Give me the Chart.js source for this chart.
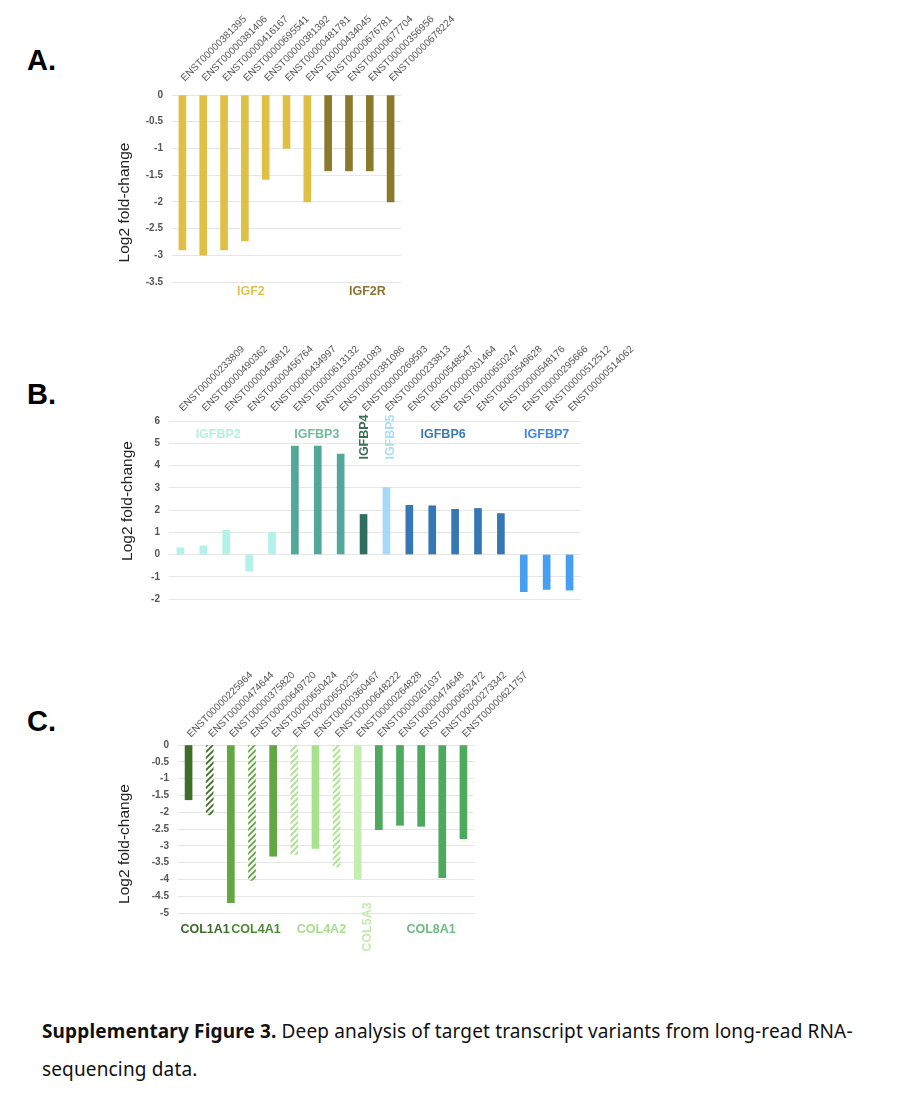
<!DOCTYPE html>
<html>
<head>
<meta charset="utf-8">
<script src="https://cdn.jsdelivr.net/npm/chart.js@4.4.1/dist/chart.umd.min.js"></script>
<style>
  body { margin: 0; background: #fff; }
  #page { position: relative; width: 900px; height: 1108px; overflow: hidden; font-family: "Liberation Sans", Arial, sans-serif; }
  canvas { position: absolute; }
  .panel { position: absolute; font-weight: bold; font-size: 29px; color: #000; }
  .cap { position: absolute; left: 42px; font-family: "Noto Sans", sans-serif; font-size: 19px; letter-spacing: 0.15px; color: #111; white-space: nowrap; }
</style>
</head>
<body>
<div id="page">
  <div class="panel" style="left:27px;top:44px">A.</div>
  <div class="panel" style="left:27px;top:378px">B.</div>
  <div class="panel" style="left:27px;top:705px">C.</div>
  <canvas id="chartA" width="380" height="310" style="left:100px;top:0px"></canvas>
  <canvas id="chartB" width="560" height="290" style="left:100px;top:330px"></canvas>
  <canvas id="chartC" width="460" height="310" style="left:100px;top:660px"></canvas>
  <div class="cap" style="top:1018px"><b>Supplementary Figure 3.</b> Deep analysis of target transcript variants from long-read RNA-</div>
  <div class="cap" style="top:1056px">sequencing data.</div>
</div>
<script>
// ---- data ----
var igfLabels = ['ENST00000381395','ENST00000381406','ENST00000416167','ENST00000695541','ENST00000381392',
  'ENST00000481781','ENST00000434045','ENST00000676781','ENST00000677704','ENST00000356956','ENST00000678224'];
var igfValues = [-2.9, -3.0, -2.9, -2.73, -1.58, -1.0, -2.0, -1.42, -1.42, -1.42, -2.0];
var igfGenes = ['IGF2', 'IGF2R'];
var igfCounts = [7, 4];

var igfbpLabels = ['ENST00000233809','ENST00000490362','ENST00000436812','ENST00000456764','ENST00000434997',
  'ENST00000613132','ENST00000381083','ENST00000381086','ENST00000269593','ENST00000233813','ENST00000548547',
  'ENST00000301464','ENST00000650247','ENST00000549628','ENST00000548176','ENST00000295666','ENST00000512512',
  'ENST00000514062'];
var igfbpValues = [0.3, 0.39, 1.09, -0.75, 0.99, 4.87, 4.87, 4.51, 1.8, 3.01, 2.21, 2.19, 2.03, 2.07, 1.84, -1.67, -1.57, -1.6];
var igfbpGenes = ['IGFBP2', 'IGFBP3', 'IGFBP4', 'IGFBP5', 'IGFBP6', 'IGFBP7'];
var igfbpCounts = [5, 3, 1, 1, 5, 3];

var colLabels = ['ENST00000225964','ENST00000474644','ENST00000375820','ENST00000649720','ENST00000650424',
  'ENST00000650225','ENST00000360467','ENST00000648222','ENST00000264828','ENST00000261037','ENST00000474648',
  'ENST00000652472','ENST00000273342','ENST00000621757'];
var colValues = [-1.63, -2.08, -4.69, -4.03, -3.31, -3.26, -3.08, -3.63, -3.99, -2.52, -2.39, -2.42, -3.95, -2.79];
var colHatched = [false, true, false, true, false, true, false, true, false, false, false, false, false, false];
var colGenes = ['COL1A1', 'COL4A1', 'COL4A2', 'COL5A3', 'COL8A1'];
var colCounts = [2, 3, 3, 1, 5];

var yTitle = 'Log2 fold-change';

// ---- styles ----
var igfBarColors = ['#e0bf45', '#8c7a2c'];
var igfTextColors = ['#e3c14e', '#8f7430'];
var igfbpBarColors = ['#b2f2e8', '#52a898', '#2f6e60', '#a6d8fa', '#3577b5', '#479ff2'];
var igfbpTextColors = ['#b5f0dc', '#6ebc99', '#3d6e55', '#aedcf4', '#3d7aae', '#3d86ea'];
var colBarColors = ['#3e6e2a', '#62a842', '#a9e08c', '#c6ecb2', '#4daa5c'];
var colTextColors = ['#3c6b2b', '#4a8a32', '#a8e08a', '#c4ebaf', '#6dbb80'];
var FONT = '"Liberation Sans", Arial, sans-serif';

function hatch(color) {
  var c = document.createElement('canvas');
  c.width = 6; c.height = 6;
  var g = c.getContext('2d');
  g.strokeStyle = color;
  g.lineWidth = 1.8;
  g.beginPath();
  g.moveTo(0, 6); g.lineTo(6, 0);
  g.moveTo(-3, 3); g.lineTo(3, -3);
  g.moveTo(3, 9); g.lineTo(9, 3);
  g.stroke();
  return g.createPattern(c, 'repeat');
}

function perBar(counts, colors) {
  var out = [];
  counts.forEach(function(n, i) {
    for (var k = 0; k < n; k++) out.push(colors[i]);
  });
  return out;
}

function groupsOf(names, counts, colors, opts) {
  var g = [], s = 0;
  names.forEach(function(n, i) {
    g.push({ name: n, start: s, end: s + counts[i] - 1, color: colors[i],
      dx: (opts.dx || [])[i] || 0, dy: (opts.dy || [])[i] || 0, vertical: (opts.vertical || [])[i] || false });
    s += counts[i];
  });
  return g;
}

// gene names under / over the bar groups
var groupLabels = {
  id: 'groupLabels',
  afterDatasetsDraw: function(chart, args, o) {
    var ctx = chart.ctx, area = chart.chartArea, x = chart.scales.x;
    ctx.save();
    ctx.font = 'bold 12.5px ' + FONT;
    ctx.textAlign = 'center';
    ctx.textBaseline = 'middle';
    o.groups.forEach(function(g) {
      var px = (x.getPixelForValue(g.start) + x.getPixelForValue(g.end)) / 2 + g.dx;
      var py = (o.anchor === 'top' ? area.top : area.bottom) + o.offset + g.dy;
      ctx.fillStyle = g.color;
      if (g.vertical) {
        ctx.save();
        ctx.translate(px, py);
        ctx.rotate(-Math.PI / 2);
        ctx.fillText(g.name, 0, 0);
        ctx.restore();
      } else {
        ctx.fillText(g.name, px, py);
      }
    });
    ctx.restore();
  }
};

// y axis title, a bit off-centre like the original
var axisTitle = {
  id: 'axisTitle',
  afterDraw: function(chart, args, o) {
    var ctx = chart.ctx, area = chart.chartArea;
    ctx.save();
    ctx.font = '15.5px ' + FONT;
    ctx.fillStyle = '#222';
    ctx.textAlign = 'center';
    ctx.textBaseline = 'middle';
    ctx.translate(o.x, (area.top + area.bottom) / 2 + o.dy);
    ctx.rotate(-Math.PI / 2);
    ctx.fillText(yTitle, 0, 0);
    ctx.restore();
  }
};

function makeChart(id, labels, values, colors, y, layout, groupOpts) {
  return new Chart(document.getElementById(id), {
    type: 'bar',
    data: {
      labels: labels,
      datasets: [{ data: values, backgroundColor: colors, barThickness: 7, borderWidth: 0 }]
    },
    plugins: [groupLabels, axisTitle],
    options: {
      responsive: false,
      animation: false,
      events: [],
      layout: { padding: layout.padding },
      plugins: {
        legend: { display: false },
        tooltip: { enabled: false },
        groupLabels: groupOpts,
        axisTitle: { x: layout.titleX, dy: layout.titleDy }
      },
      scales: {
        x: {
          position: 'top',
          grid: { display: false },
          border: { display: false },
          afterFit: function(s) { s.height = layout.top; s.paddingLeft = 0; s.paddingRight = 0; },
          ticks: {
            autoSkip: false, minRotation: 45, maxRotation: 45,
            padding: layout.tickPad, labelOffset: 9,
            color: '#555', font: { family: FONT, size: 10 }
          }
        },
        y: {
          min: y.min, max: y.max,
          afterFit: function(s) { s.width = layout.left; },
          grid: { color: '#e6e6e6', drawTicks: false },
          border: { display: false },
          ticks: {
            stepSize: y.step, padding: 9, color: '#555',
            callback: function(v) { return String(Math.round(v * 10) / 10); },
            font: { family: FONT, size: 10, weight: 'bold' }
          }
        }
      }
    }
  });
}

makeChart('chartA', igfLabels, igfValues, perBar(igfCounts, igfBarColors),
  { min: -3.5, max: 0, step: 0.5 },
  { left: 72, top: 95, tickPad: 3, titleX: 25, titleDy: 14,
    padding: { left: 0, top: 0, right: 79, bottom: 28 } },
  { anchor: 'bottom', offset: 10, groups: groupsOf(igfGenes, igfCounts, igfTextColors, { dx: [6, 8] }) });

makeChart('chartB', igfbpLabels, igfbpValues, perBar(igfbpCounts, igfbpBarColors),
  { min: -2, max: 6, step: 1 },
  { left: 69, top: 91, tickPad: -1, titleX: 28, titleDy: -9,
    padding: { left: 0, top: 0, right: 79, bottom: 21 } },
  { anchor: 'top', offset: 14, groups: groupsOf(igfbpGenes, igfbpCounts, igfbpTextColors,
      { dx: [-8, -1, 1, 4, -12, 0], dy: [0, 0, 2, 2, 0, 0], vertical: [false, false, true, true, false, false] }) });

var colColors = perBar(colCounts, colBarColors).map(function(c, i) { return colHatched[i] ? hatch(c) : c; });
makeChart('chartC', colLabels, colValues, colColors,
  { min: -5, max: 0, step: 0.5 },
  { left: 78, top: 85, tickPad: -3, titleX: 25, titleDy: 15,
    padding: { left: 0, top: 0, right: 86, bottom: 57 } },
  { anchor: 'bottom', offset: 17, groups: groupsOf(colGenes, colCounts, colTextColors,
      { dx: [6, 4, 6, 10, 10], dy: [0, 0, 0, -3, 0], vertical: [false, false, false, true, false] }) });
</script>
</body>
</html>
